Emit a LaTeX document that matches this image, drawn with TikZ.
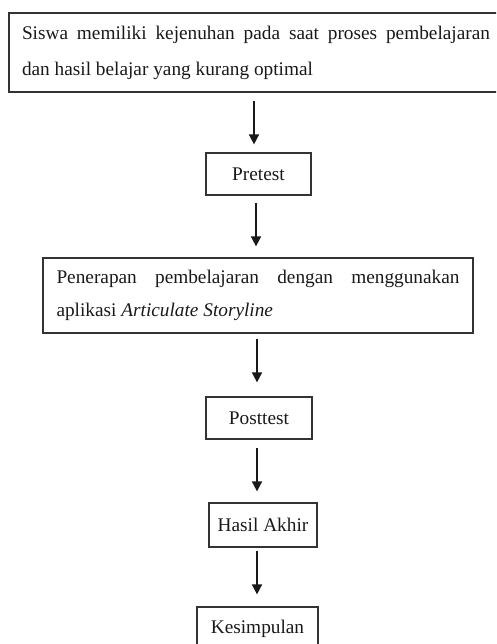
\documentclass[tikz,border=0pt]{standalone}
\usepackage{fontspec}
\setmainfont{Liberation Serif}
\usetikzlibrary{arrows.meta,calc}
\begin{document}
\begin{tikzpicture}[x=1pt,y=-1pt,
  box/.style={draw=black!80, line width=1.2pt, rectangle, inner sep=0pt,
    font=\fontsize{19.3}{34}\selectfont, text=black!90},
  wide/.style={box, align=justify},
  arr/.style={draw=black!90, line width=1.6pt, -{Triangle[length=10pt,width=10pt]}}]
\useasboundingbox (0,0) rectangle (496,644);
\clip (0,0) rectangle (496,644);
\node[wide, text width=468pt, minimum width=494pt, minimum height=79pt,
  font=\fontsize{19.3}{36}\selectfont] (top) at (256,52.5)
  {\hyphenpenalty=10000 Siswa memiliki kejenuhan pada saat proses pembelajaran\linebreak dan hasil belajar yang kurang optimal};
\node[box, minimum width=105pt, minimum height=42pt] (pre) at (258.5,174) {Pretest};
\node[wide, text width=403pt, minimum width=430pt, minimum height=75pt,
  font=\fontsize{19.3}{33}\selectfont] (mid) at (258,295.5)
  {\hyphenpenalty=10000 Penerapan pembelajaran dengan menggunakan\linebreak aplikasi \textit{Articulate Storyline}};
\node[box, minimum width=106pt, minimum height=42pt] (post) at (259,418) {Posttest};
\node[box, minimum width=108pt, minimum height=44pt] (hasil) at (263,525) {Hasil Akhir};
\node[box, minimum width=121pt, minimum height=44pt] (kes) at (257.5,629) {Kesimpulan};
\draw[arr, shorten <=8pt, shorten >=8pt] ([xshift=-2pt]top.south) -- ([xshift=-2pt]top.south |- pre.north);
\draw[arr, shorten <=7pt, shorten >=11pt] ([xshift=-2.5pt]pre.south) -- ([xshift=-2.5pt]pre.south |- mid.north);
\draw[arr, shorten <=5pt, shorten >=14pt] ([xshift=-1pt]mid.south) -- ([xshift=-1pt]mid.south |- post.north);
\draw[arr, shorten <=8pt, shorten >=11pt] ([xshift=-2pt]post.south) -- ([xshift=-2pt]post.south |- hasil.north);
\draw[arr, shorten <=3pt, shorten >=12pt] ([xshift=-0.5pt]kes.north |- hasil.south) -- ([xshift=-0.5pt]kes.north);
\end{tikzpicture}
\end{document}
